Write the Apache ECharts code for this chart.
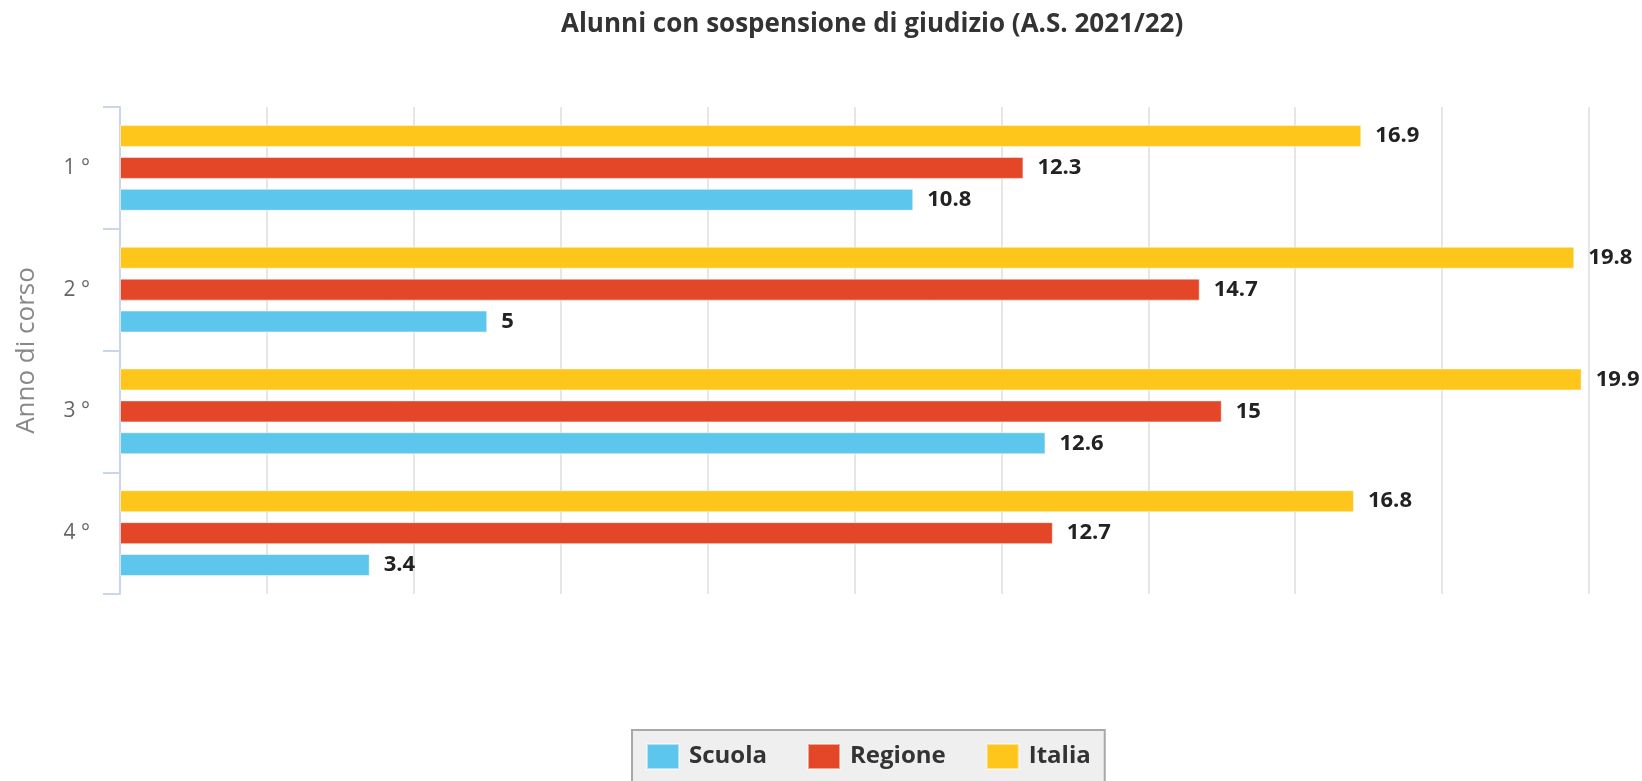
<!DOCTYPE html>
<html>
<head>
<meta charset="utf-8">
<script src="https://cdn.jsdelivr.net/npm/echarts@6/dist/echarts.min.js"></script>
<style>
  html, body { margin: 0; padding: 0; background: #fff; }
  #chart { width: 1642px; height: 781px; }
</style>
</head>
<body>
<div id="chart"></div>
<script>
const categories = ["1 °", "2 °", "3 °", "4 °"];
const scuola = [10.8, 5, 12.6, 3.4];
const regione = [12.3, 14.7, 15, 12.7];
const italia = [16.9, 19.8, 19.9, 16.8];

const colors = { scuola: "#5cc6ec", regione: "#e44628", italia: "#fec51a" };

const myChart = echarts.init(document.getElementById("chart"));

const labelStyle = {
  show: true,
  position: "right",
  distance: 14,
  color: "#222",
  fontFamily: "Open Sans",
  fontWeight: "bold",
  fontSize: 22,
};

function makeSeries(name, data, color) {
  return {
    name: name,
    type: "bar",
    data: data,
    barWidth: 22,
    barGap: "45%",
    itemStyle: { color: color, borderColor: "rgba(255,255,255,0.5)", borderWidth: 1 },
    label: labelStyle,
    emphasis: { disabled: true },
  };
}

const options = {
  animation: false,
  title: {
    text: "Alunni con sospensione di giudizio (A.S. 2021/22)",
    left: 556,
    top: 7,
    textStyle: {
      color: "#333",
      fontFamily: "Open Sans",
      fontWeight: "bold",
      fontSize: 26,
    },
  },
  legend: {
    data: ["Scuola", "Regione", "Italia"],
    left: 632,
    top: 730,
    padding: [13, 14, 30, 14],
    itemWidth: 32,
    itemHeight: 25,
    itemGap: 40,
    icon: "rect",
    backgroundColor: "#efefef",
    borderColor: "#a8a8a8",
    borderWidth: 2,
    textStyle: {
      color: "#333",
      fontFamily: "Open Sans",
      fontWeight: "bold",
      fontSize: 24,
      padding: [0, 0, 0, 5],
    },
  },
  grid: {
    left: 120,
    right: 53,
    top: 107,
    bottom: 187,
  },
  xAxis: {
    type: "value",
    min: 0,
    max: 20,
    interval: 2,
    axisLabel: { show: false },
    axisLine: { show: false },
    axisTick: { show: false },
    splitLine: { show: true, lineStyle: { color: "#dedede", width: 1.5 } },
  },
  yAxis: {
    type: "category",
    data: categories,
    inverse: true,
    name: "Anno di corso",
    nameLocation: "middle",
    nameRotate: 90,
    nameGap: 80,
    nameTextStyle: { color: "#888", fontFamily: "Open Sans", fontSize: 26 },
    axisLine: { show: true, lineStyle: { color: "#ccd6eb", width: 2 } },
    axisTick: { show: true, length: 17, lineStyle: { color: "#ccd6eb", width: 2 } },
    axisLabel: { color: "#666", fontFamily: "Open Sans", fontSize: 21, margin: 30 },
  },
  // first series sits at the top of each group
  series: [
    makeSeries("Italia", italia, colors.italia),
    makeSeries("Regione", regione, colors.regione),
    makeSeries("Scuola", scuola, colors.scuola),
  ],
};

myChart.setOption(options);
</script>
</body>
</html>
